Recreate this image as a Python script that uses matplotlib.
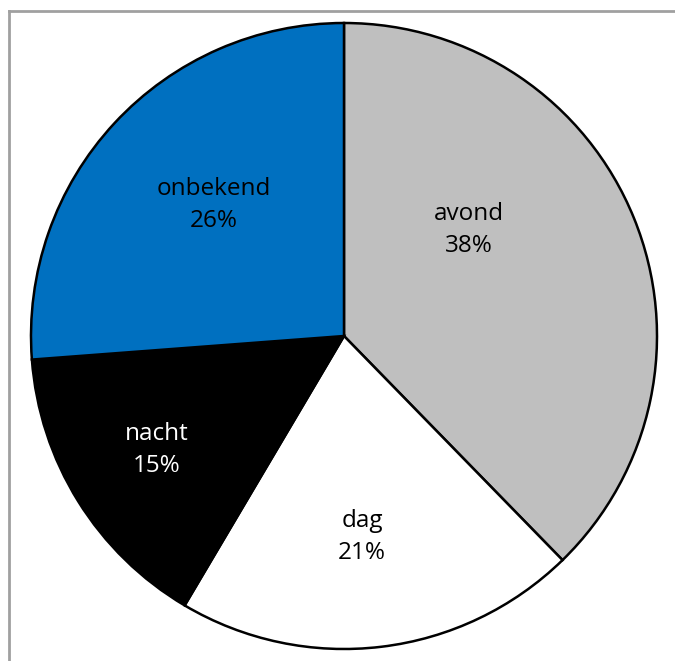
import matplotlib
matplotlib.use("Agg")
import matplotlib.pyplot as plt
from matplotlib.lines import Line2D

categories = ["avond", "dag", "nacht", "onbekend"]
values = [37.7, 20.8, 15.3, 26.2]
pct_labels = ["38%", "21%", "15%", "26%"]
colors = ["#BFBFBF", "#FFFFFF", "#000000", "#0070C0"]
text_colors = ["black", "black", "white", "black"]
label_pos = [(0.40, 0.339), (0.058, -0.642), (-0.597, -0.364), (-0.415, 0.419)]

W, H = 675, 661
fig = plt.figure(figsize=(W / 100, H / 100), dpi=100)
cx, cy, r = 344, 336, 313
ax = fig.add_axes([(cx - r) / W, (H - cy - r) / H, 2 * r / W, 2 * r / H])
wedges, _ = ax.pie(values, colors=colors, startangle=90, counterclock=False,
                   radius=1, wedgeprops=dict(edgecolor="black", linewidth=1.8))
ax.set_xlim(-1, 1)
ax.set_ylim(-1, 1)
ax.set_aspect("equal")
ax.axis("off")

for cat, p, (x, y), tc in zip(categories, pct_labels, label_pos, text_colors):
    ax.text(x, y, f"{cat}\n{p}", ha="center", va="center", color=tc,
            fontsize=17.5, family="Open Sans", linespacing=1.45)

fig.add_artist(Line2D([8.5 / W, 8.5 / W], [0, 1 - 10.5 / H], transform=fig.transFigure,
                      color="#A0A0A0", linewidth=2))
fig.add_artist(Line2D([8.5 / W, 1], [1 - 10.5 / H, 1 - 10.5 / H], transform=fig.transFigure,
                      color="#A0A0A0", linewidth=2))

fig.savefig("out.png", dpi=100)
